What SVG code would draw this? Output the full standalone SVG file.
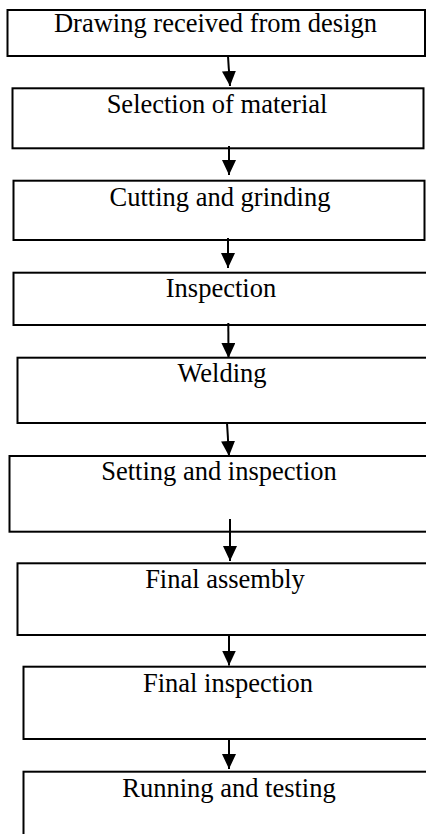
<svg xmlns="http://www.w3.org/2000/svg" width="426" height="834" viewBox="0 0 426 834">
<style>
  .box { fill: #ffffff; stroke: #000000; stroke-width: 2; }
  .lbl { font-family: "Liberation Serif", "Times New Roman", serif; font-size: 26.5px; fill: #000000; text-anchor: middle; }
  .conn { stroke: #000000; stroke-width: 2; fill: none; }
</style>
<defs>
  <marker id="ah" viewBox="0 0 15 14" refX="15" refY="7" markerWidth="15" markerHeight="14" markerUnits="userSpaceOnUse" orient="auto">
    <path d="M0,0 L15,7 L0,14 z" fill="#000000"/>
  </marker>
</defs>
<rect width="426" height="834" fill="#ffffff"/>
<g id="n1"><rect class="box" x="7.5" y="10" width="417.5" height="46"/><text class="lbl" x="215.5" y="31.7">Drawing received from design</text></g>
<g id="n2"><rect class="box" x="12.5" y="88.3" width="411" height="60"/><text class="lbl" x="217" y="113.3">Selection of material</text></g>
<g id="n3"><rect class="box" x="13.5" y="180.7" width="411" height="59.3"/><text class="lbl" x="220" y="206">Cutting and grinding</text></g>
<g id="n4"><rect class="box" x="13.5" y="272.7" width="420" height="52.3"/><text class="lbl" x="221" y="296.7">Inspection</text></g>
<g id="n5"><rect class="box" x="17.5" y="357.7" width="420" height="65.3"/><text class="lbl" x="222" y="381.7">Welding</text></g>
<g id="n6"><rect class="box" x="9.5" y="456" width="420" height="75.7"/><text class="lbl" x="219" y="480">Setting and inspection</text></g>
<g id="n7"><rect class="box" x="17.5" y="563.3" width="420" height="71.7"/><text class="lbl" x="225" y="588.3">Final assembly</text></g>
<g id="n8"><rect class="box" x="23.5" y="666.7" width="420" height="72.3"/><text class="lbl" x="228" y="691.7">Final inspection</text></g>
<g id="n9"><rect class="box" x="23.5" y="771.7" width="420" height="80"/><text class="lbl" x="229" y="796.7">Running and testing</text></g>
<g id="connectors">
  <path class="conn" d="M228,56.5 L230,86" marker-end="url(#ah)"/>
  <path class="conn" d="M229,146 L229,175" marker-end="url(#ah)"/>
  <path class="conn" d="M228,238 L228,268" marker-end="url(#ah)"/>
  <path class="conn" d="M228.3,323 L228.5,358" marker-end="url(#ah)"/>
  <path class="conn" d="M227,423 L229,456" marker-end="url(#ah)"/>
  <path class="conn" d="M230,519 L230,561" marker-end="url(#ah)"/>
  <path class="conn" d="M229,635 L229,665.5" marker-end="url(#ah)"/>
  <path class="conn" d="M229,739 L229,769" marker-end="url(#ah)"/>
</g>
</svg>
